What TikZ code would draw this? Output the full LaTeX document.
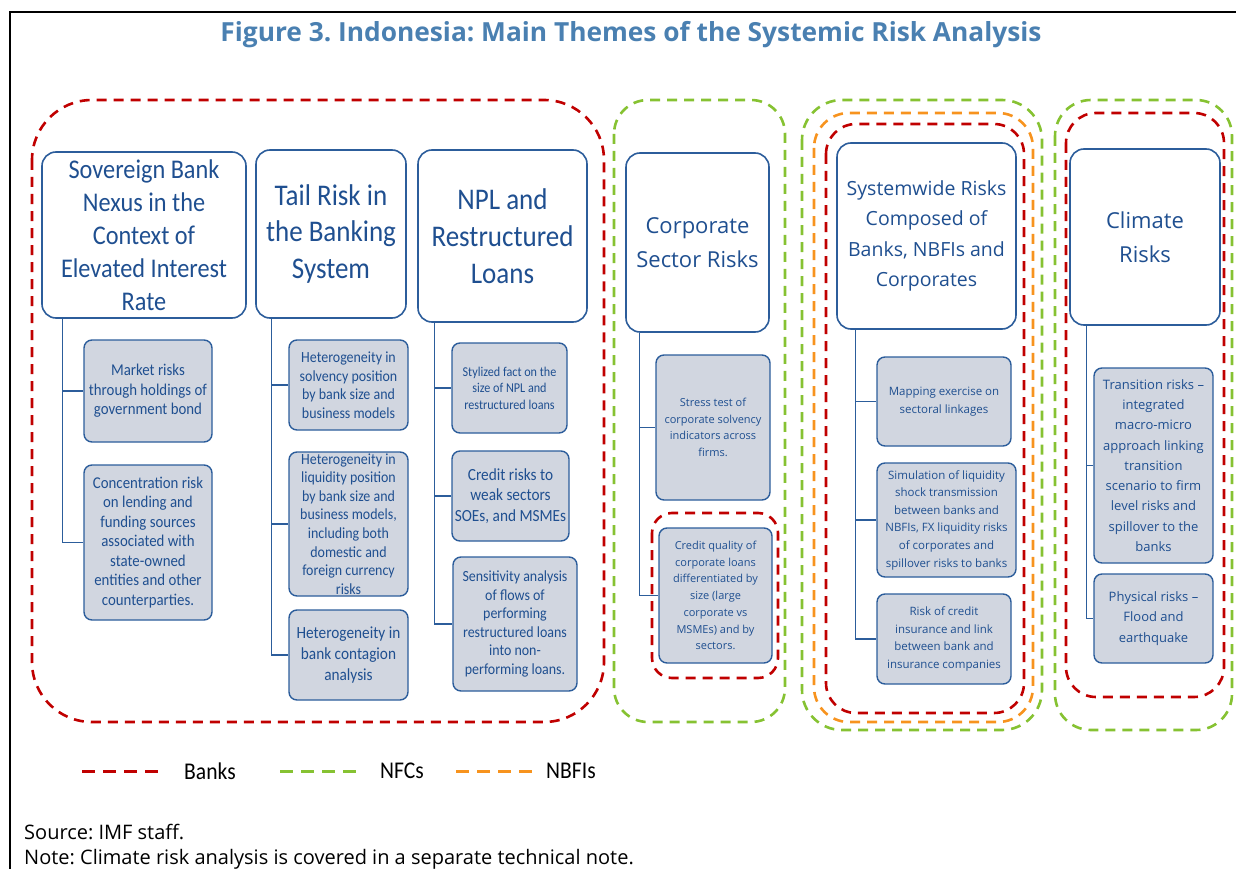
\documentclass[tikz,border=0pt]{standalone}
\usepackage{fontspec}
\setmainfont{Open Sans}
\newfontfamily\narrowfont[FakeStretch=0.9]{Carlito}
\usetikzlibrary{positioning}
\frenchspacing

\definecolor{imfblue}{HTML}{4A80B1}
\definecolor{boxblue}{HTML}{2C5D9B}
\definecolor{textblue}{HTML}{1F4F90}
\definecolor{itemgray}{HTML}{D1D6E0}
\definecolor{bankred}{HTML}{C00000}
\definecolor{nfcgreen}{HTML}{86C232}
\definecolor{nbfiorange}{HTML}{F7931E}

\tikzset{
	every node/.style={
		inner sep=1pt
	},
	theme/.style={
		shape=rectangle,
		draw=boxblue,
		line width=1.6pt,
		rounded corners=14pt,
		fill=white,
		text=textblue,
		align=center
	},
	topic/.style={
		shape=rectangle,
		draw=boxblue,
		line width=1.4pt,
		rounded corners=8pt,
		fill=itemgray,
		text=textblue,
		align=center
	},
	box/.style 2 args={
		minimum width=#1pt,
		minimum height=#2pt
	},
	branch/.style={
		draw=boxblue,
		line width=1.4pt
	},
	group/.style={
		dash pattern=on 10pt off 7pt,
		line width=2.6pt
	},
	banks/.style={group, draw=bankred},
	nfcs/.style={group, draw=nfcgreen},
	nbfis/.style={group, draw=nbfiorange},
	key/.style={
		font=\narrowfont\fontsize{24}{28}\selectfont
	}
}

\begin{document}
\begin{tikzpicture}[x=1pt, y=-1pt]
	\useasboundingbox (0,0) rectangle (1236,869);
	
	% frame and title
	\draw[line width=1.6pt] (10,869) -- (10,12) -- (1236,12);
	\node[font=\bfseries\fontsize{26.3}{30}\selectfont, text=imfblue] (title) at (631,35)
		{Figure 3. Indonesia: Main Themes of the Systemic Risk Analysis};
	
	% sector groups
	\draw[banks, rounded corners=60pt] (32,100) rectangle (604,722);
	\draw[nfcs, rounded corners=34pt] (614,100) rectangle (785,722);
	\draw[banks, rounded corners=20pt] (652,513) rectangle (778,678);
	\draw[nfcs, rounded corners=40pt] (802,100) rectangle (1042,730);
	\draw[nbfis, rounded corners=35pt] (814,113) rectangle (1033,722);
	\draw[banks, rounded corners=30pt] (826,124) rectangle (1024,713);
	\draw[nfcs, rounded corners=36pt] (1055,100) rectangle (1232,730);
	\draw[banks, rounded corners=30pt] (1066,113) rectangle (1224,697);
	
	% themes
	\node[theme, box={204}{166}, font=\narrowfont\fontsize{27}{33}\selectfont] (sovereign) at (144,235)
		{Sovereign Bank\\Nexus in the\\Context of\\Elevated Interest\\Rate};
	\node[theme, box={150}{168}, font=\narrowfont\fontsize{30}{36.5}\selectfont] (tail) at (331,234)
		{Tail Risk in\\the Banking\\System};
	\node[theme, box={169}{172}, font=\narrowfont\fontsize{30}{37}\selectfont] (npl) at (502.5,236)
		{NPL and\\Restructured\\Loans};
	\node[theme, box={143}{179}, font=\fontsize{22}{34}\selectfont] (corporate) at (697.5,242.5)
		{Corporate\\Sector Risks};
	\node[theme, box={179}{186}, font=\fontsize{19.5}{30.3}\selectfont] (systemwide) at (926.5,236)
		{Systemwide Risks\\Composed of\\Banks, NBFIs and\\Corporates};
	\node[theme, box={150}{176}, font=\fontsize{22}{34}\selectfont] (climate) at (1145,237)
		{Climate\\Risks};
	
	% sovereign bank nexus
	\node[topic, box={128}{102}, font=\narrowfont\fontsize{16.5}{19.5}\selectfont] (market) at (148,391)
		{Market risks\\through holdings of\\government bond};
	\node[topic, box={128}{155}, font=\narrowfont\fontsize{16.5}{19.5}\selectfont] (concentration) at (148,542.5)
		{Concentration risk\\on lending and\\funding sources\\associated with\\state-owned\\entities and other\\counterparties.};
	
	% tail risk
	\node[topic, box={119}{90}, font=\narrowfont\fontsize{15.5}{18.5}\selectfont] (solvency) at (348.5,385)
		{Heterogeneity in\\solvency position\\by bank size and\\business models};
	\node[topic, box={119}{144}, font=\narrowfont\fontsize{15.5}{18.6}\selectfont] (liquidity) at (348.5,524)
		{Heterogeneity in\\liquidity position\\by bank size and\\business models,\\including both\\domestic and\\foreign currency\\risks};
	\node[topic, box={119}{90}, font=\narrowfont\fontsize{17}{21}\selectfont] (contagion) at (348.5,655)
		{Heterogeneity in\\bank contagion\\analysis};
	
	% npl
	\node[topic, box={115}{90}, font=\narrowfont\fontsize{13.5}{16.5}\selectfont] (stylized) at (509.5,388)
		{Stylized fact on the\\size of NPL and\\restructured loans};
	\node[topic, box={117}{90}, font=\narrowfont\fontsize{17}{20.5}\selectfont] (weak) at (510.5,496)
		{Credit risks to\\weak sectors\\SOEs, and MSMEs};
	\node[topic, box={124}{134}, font=\narrowfont\fontsize{15.5}{18.5}\selectfont] (sensitivity) at (515,624)
		{Sensitivity analysis\\of flows of\\performing\\restructured loans\\into non-\\performing loans.};
	
	% corporate sector
	\node[topic, box={114}{145}, font=\fontsize{11}{16.7}\selectfont] (stress) at (713,427.5)
		{Stress test of\\corporate solvency\\indicators across\\firms.};
	\node[topic, box={113}{135}, font=\fontsize{11}{16.7}\selectfont] (quality) at (715.5,595.5)
		{Credit quality of\\corporate loans\\differentiated by\\size (large\\corporate vs\\MSMEs) and by\\sectors.};
	
	% systemwide
	\node[topic, box={134}{89}, font=\fontsize{11.5}{17.6}\selectfont] (mapping) at (944,401.5)
		{Mapping exercise on\\sectoral linkages};
	\node[topic, box={139}{114}, font=\fontsize{11.5}{17.6}\selectfont] (simulation) at (946.5,520)
		{Simulation of liquidity\\shock transmission\\between banks and\\NBFIs, FX liquidity risks\\of corporates and\\spillover risks to banks};
	\node[topic, box={134}{90}, font=\fontsize{11.5}{17.7}\selectfont] (insurance) at (944,639)
		{Risk of credit\\insurance and link\\between bank and\\insurance companies};
	
	% climate
	\node[topic, box={119}{195}, font=\fontsize{13}{20.3}\selectfont] (transition) at (1153.5,465.5)
		{Transition risks --\\integrated\\macro-micro\\approach linking\\transition\\scenario to firm\\level risks and\\spillover to the\\banks};
	\node[topic, box={119}{89}, font=\fontsize{13}{20.3}\selectfont] (physical) at (1153.5,618.5)
		{Physical risks --\\Flood and\\earthquake};
	
	% branches
	\draw[branch] ([xshift=21pt]sovereign.south west) |- (market.west);
	\draw[branch] ([xshift=21pt]sovereign.south west) |- (concentration.west);
	\draw[branch] ([xshift=16pt]tail.south west) |- (solvency.west);
	\draw[branch] ([xshift=16pt]tail.south west) |- (liquidity.west);
	\draw[branch] ([xshift=16pt]tail.south west) |- (contagion.west);
	\draw[branch] ([xshift=17pt]npl.south west) |- (stylized.west);
	\draw[branch] ([xshift=17pt]npl.south west) |- (weak.west);
	\draw[branch] ([xshift=17pt]npl.south west) |- (sensitivity.west);
	\draw[branch] ([xshift=14pt]corporate.south west) |- (stress.west);
	\draw[branch] ([xshift=14pt]corporate.south west) |- (quality.west);
	\draw[branch] ([xshift=19pt]systemwide.south west) |- (mapping.west);
	\draw[branch] ([xshift=19pt]systemwide.south west) |- (simulation.west);
	\draw[branch] ([xshift=19pt]systemwide.south west) |- (insurance.west);
	\draw[branch] ([xshift=17pt]climate.south west) |- (transition.west);
	\draw[branch] ([xshift=17pt]climate.south west) |- (physical.west);
	
	% legend
	\foreach \kind/\label/\x/\gap in {banks/Banks/82/23, nfcs/NFCs/280/21, nbfis/NBFIs/456/11} {
		\draw[\kind, line width=3pt, dash pattern=on 13pt off 8pt] (\x,771) -- ++(78,0) coordinate (\kind key);
		\node[key, right=\gap pt of \kind key] (\kind label) {\label};
	}
	
	% notes
	\node[anchor=west, font=\fontsize{20}{24}\selectfont] (source) at (23,832) {Source: IMF staff.};
	\node[anchor=west, font=\fontsize{20}{24}\selectfont] (note) at (23,859)
		{Note: Climate risk analysis is covered in a separate technical note.};
\end{tikzpicture}
\end{document}
